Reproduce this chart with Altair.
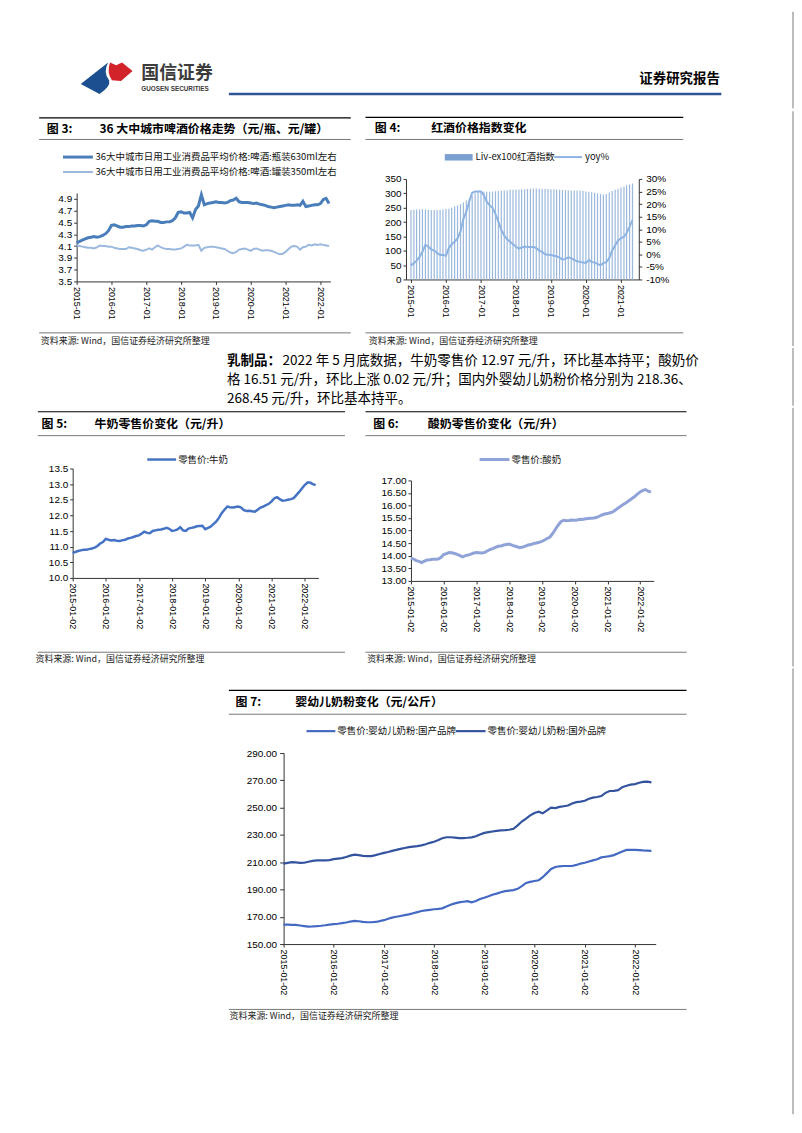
import altair as alt
import pandas as pd

CJK = "Noto Sans CJK SC"
LAT = "Liberation Sans"

# ---------------- data (monthly readings from the figures) ----------------
beer_bottle = [4.15, 4.18, 4.20, 4.22, 4.24, 4.25, 4.26, 4.25, 4.26, 4.28, 4.31, 4.36,
               4.45, 4.46, 4.44, 4.42, 4.42, 4.43, 4.43, 4.44, 4.44, 4.45, 4.45, 4.44,
               4.46, 4.52, 4.53, 4.52, 4.52, 4.50, 4.50, 4.51, 4.51, 4.53, 4.58, 4.67,
               4.68, 4.66, 4.66, 4.67, 4.58, 4.72, 4.78, 4.97, 4.80, 4.82, 4.83, 4.84,
               4.85, 4.84, 4.84, 4.83, 4.84, 4.87, 4.88, 4.91, 4.85, 4.84, 4.84, 4.84,
               4.83, 4.82, 4.83, 4.81, 4.80, 4.79, 4.77, 4.76, 4.75, 4.76, 4.77, 4.78,
               4.79, 4.80, 4.79, 4.79, 4.80, 4.79, 4.86, 4.77, 4.78, 4.79, 4.80, 4.80,
               4.82, 4.89, 4.91, 4.82]
beer_can = [4.11, 4.10, 4.09, 4.08, 4.07, 4.07, 4.06, 4.08, 4.11, 4.10, 4.10, 4.09,
            4.09, 4.07, 4.06, 4.05, 4.05, 4.05, 4.08, 4.07, 4.06, 4.05, 4.03, 4.02,
            4.04, 4.06, 4.04, 4.08, 4.11, 4.08, 4.06, 4.05, 4.05, 4.04, 4.04, 4.05,
            4.06, 4.09, 4.12, 4.11, 4.11, 4.11, 4.12, 4.02, 4.07, 4.08, 4.09, 4.09,
            4.08, 4.07, 4.06, 4.05, 4.02, 3.99, 3.98, 4.00, 4.04, 4.05, 4.06, 4.04,
            4.02, 4.05, 4.06, 4.04, 4.02, 4.03, 4.03, 4.02, 4.00, 3.98, 3.96, 3.97,
            4.00, 4.05, 4.09, 4.10, 4.09, 4.04, 4.08, 4.09, 4.12, 4.11, 4.13, 4.12,
            4.13, 4.12, 4.11, 4.10]
wine_index = [242, 243, 244, 244, 245, 244, 243, 242, 242, 242, 243, 244,
              245, 246, 250, 255, 258, 262, 268, 275, 282, 292, 300, 305,
              308, 306, 305, 305, 306, 307, 308, 309, 310, 311, 312, 312,
              313, 313, 314, 314, 315, 316, 317, 317, 316, 316, 316, 315,
              314, 314, 313, 312, 312, 311, 311, 310, 310, 310, 309, 308,
              306, 305, 304, 302, 300, 298, 296, 298, 303, 308, 312, 316,
              320, 324, 328, 331, 334]
wine_yoy = [-4.4, -3.5, -2.5, -1.0, 1.0, 3.8, 3.0, 2.0, 1.5, 0.5, -0.3, -0.2,
            -0.6, 2.5, 4.0, 5.0, 6.3, 9.0, 14.0, 17.0, 21.0, 24.5, 25.0, 25.0,
            25.0, 23.5, 21.0, 19.5, 18.5, 16.0, 13.0, 9.7, 7.5, 6.0, 5.0, 4.0,
            3.0, 2.3, 2.7, 3.0, 3.0, 2.8, 3.0, 2.5, 1.5, 1.0, 0.0, -0.2,
            -0.3, -0.6, -0.8, -1.3, -2.1, -1.8, -1.2, -1.5, -2.2, -2.8, -3.0, -3.3,
            -3.4, -2.3, -3.0, -3.3, -3.8, -4.4, -3.5, -3.1, -1.5, 1.5, 3.5, 5.5,
            6.4, 7.0, 8.5, 11.0, 13.6]
milk = [10.80, 10.83, 10.86, 10.88, 10.90, 10.90, 10.92, 10.94, 10.97, 11.02, 11.10, 11.15,
        11.25, 11.22, 11.20, 11.21, 11.19, 11.18, 11.20, 11.22, 11.26, 11.28, 11.31, 11.34,
        11.36, 11.42, 11.48, 11.44, 11.43, 11.50, 11.52, 11.54, 11.55, 11.57, 11.60, 11.57,
        11.50, 11.52, 11.55, 11.62, 11.52, 11.50, 11.58, 11.60, 11.62, 11.65, 11.66, 11.67,
        11.56, 11.60, 11.64, 11.72, 11.80, 11.92, 12.07, 12.18, 12.28, 12.26, 12.25, 12.27,
        12.28, 12.25, 12.17, 12.14, 12.15, 12.13, 12.12, 12.18, 12.25, 12.28, 12.33, 12.37,
        12.45, 12.55, 12.58, 12.52, 12.47, 12.48, 12.50, 12.52, 12.55, 12.65, 12.75, 12.86,
        12.97, 13.05, 13.05, 13.00, 12.97]
yogurt = [13.90, 13.86, 13.80, 13.77, 13.72, 13.78, 13.82, 13.83, 13.85, 13.85, 13.86, 13.92,
          14.04, 14.08, 14.12, 14.11, 14.08, 14.05, 14.00, 13.95, 14.00, 14.02, 14.06, 14.10,
          14.12, 14.11, 14.10, 14.12, 14.18, 14.24, 14.28, 14.33, 14.37, 14.38, 14.42, 14.44,
          14.46, 14.42, 14.38, 14.35, 14.31, 14.34, 14.38, 14.42, 14.44, 14.48, 14.50, 14.53,
          14.57, 14.62, 14.68, 14.74, 14.88, 15.05, 15.21, 15.35, 15.41, 15.39, 15.40, 15.42,
          15.41, 15.42, 15.45, 15.44, 15.47, 15.48, 15.49, 15.50, 15.52, 15.57, 15.62, 15.66,
          15.68, 15.71, 15.74, 15.82, 15.90, 15.98, 16.05, 16.12, 16.20, 16.28, 16.36, 16.45,
          16.54, 16.60, 16.63, 16.57, 16.53]
formula_domestic = [164.3, 164.2, 164.1, 164.0, 163.6, 163.2, 162.8, 162.9, 163.1, 163.4, 163.8, 164.3,
                    164.6, 164.9, 165.3, 165.8, 166.5, 167.0, 166.7, 166.3, 166.0, 166.0, 166.2, 166.8,
                    167.5, 168.5, 169.4, 170.0, 170.6, 171.2, 171.8, 172.6, 173.4, 174.2, 174.7, 175.1,
                    175.5, 175.8, 176.2, 177.5, 178.8, 179.8, 180.5, 181.0, 181.5, 180.6, 181.5, 183.0,
                    184.0, 185.0, 186.2, 187.0, 188.0, 188.8, 189.2, 189.5, 190.5, 192.5, 194.8, 195.6,
                    196.2, 196.8, 199.0, 202.0, 205.0, 206.5, 207.0, 207.2, 207.2, 207.2, 208.0, 209.0,
                    209.6, 210.5, 211.3, 212.2, 213.5, 214.0, 214.5, 215.2, 216.5, 217.8, 219.0, 219.0,
                    219.0, 218.8, 218.6, 218.5, 218.36]
formula_foreign = [209.0, 209.5, 210.0, 209.8, 209.5, 209.6, 210.3, 211.0, 211.3, 211.3, 211.3, 211.5,
                   212.2, 212.6, 213.0, 213.8, 214.8, 215.5, 215.2, 214.6, 214.5, 214.5, 215.2, 216.0,
                   216.8, 217.5, 218.3, 219.0, 219.8, 220.4, 221.0, 221.4, 221.8, 222.3, 223.2, 224.2,
                   225.0, 226.2, 227.5, 228.3, 228.3, 228.0, 227.6, 227.7, 227.9, 228.2, 229.0, 230.3,
                   231.5, 232.0, 232.5, 233.0, 233.3, 233.5, 233.8, 234.5, 237.0, 239.8, 242.0, 244.3,
                   246.0, 247.0, 245.8, 248.0, 250.0, 249.6, 250.5, 251.0, 251.5, 253.0, 254.0, 254.4,
                   255.0, 256.5, 257.3, 257.8, 258.5, 260.8, 262.2, 262.3, 262.8, 265.0, 266.0, 266.8,
                   267.2, 268.2, 268.8, 269.0, 268.45]

fig3_y_ticks = [3.5, 3.7, 3.9, 4.1, 4.3, 4.5, 4.7, 4.9]
fig4_left_ticks = [0, 50, 100, 150, 200, 250, 300, 350]
fig4_right_ticks = [-10, -5, 0, 5, 10, 15, 20, 25, 30]
fig5_y_ticks = [10.0, 10.5, 11.0, 11.5, 12.0, 12.5, 13.0, 13.5]
fig6_y_ticks = [13.0, 13.5, 14.0, 14.5, 15.0, 15.5, 16.0, 16.5, 17.0]
fig7_y_ticks = [150, 170, 190, 210, 230, 250, 270, 290]

SRC = "资料来源: Wind，国信证券经济研究所整理"
LEG3A = "36大中城市日用工业消费品平均价格:啤酒:瓶装630ml左右"
LEG3B = "36大中城市日用工业消费品平均价格:啤酒:罐装350ml左右"
LEG4A = "Liv-ex100红酒指数"
LEG4B = "yoy%"
LEG5 = "零售价:牛奶"
LEG6 = "零售价:酸奶"
LEG7A = "零售价:婴幼儿奶粉:国产品牌"
LEG7B = "零售价:婴幼儿奶粉:国外品牌"
PARA_BOLD = "乳制品："
PARA1 = "2022 年 5 月底数据，牛奶零售价 12.97 元/升，环比基本持平；酸奶价"
PARA2 = "格 16.51 元/升，环比上涨 0.02 元/升；国内外婴幼儿奶粉价格分别为 218.36、"
PARA3 = "268.45 元/升，环比基本持平。"

C_BOTTLE = "#4a7ebb"
C_CAN = "#9bb9de"
C_BAR = "#9ab8dd"
C_YOY = "#8db3e2"
C_MILK = "#4472c4"
C_YOG = "#8fa3d9"
C_DOM = "#4469c2"
C_FOR = "#33539f"
FRAME = "#7a7a7a"


def month_dates(y, m, n):
    out = []
    for _ in range(n):
        out.append(f"{y:04d}-{m:02d}-01T00:00:00")
        m += 1
        if m > 12:
            m = 1
            y += 1
    return out


def dt(y, m, d):
    return alt.DateTime(year=y, month=m, date=d)


ONE = pd.DataFrame({"k": [0]})


class Deco:
    def __init__(self, ox, oy):
        self.ox, self.oy, self.layers = ox, oy, []

    def rule(self, x1, y1, x2, y2, color="#000000", w=1.0):
        self.layers.append(alt.Chart(ONE).mark_rule(color=color, strokeWidth=w).encode(
            x=alt.value(x1 - self.ox), y=alt.value(y1 - self.oy),
            x2=alt.value(x2 - self.ox), y2=alt.value(y2 - self.oy)))

    def rect(self, x1, y1, x2, y2, color):
        self.layers.append(alt.Chart(ONE).mark_rect(color=color).encode(
            x=alt.value(x1 - self.ox), y=alt.value(y1 - self.oy),
            x2=alt.value(x2 - self.ox), y2=alt.value(y2 - self.oy)))

    def text(self, x, y, s, size=9.0, weight="normal", color="#111111", font=CJK, align="left"):
        self.layers.append(alt.Chart(ONE).mark_text(
            text=s, align=align, baseline="middle", fontSize=size, fontWeight=weight,
            color=color, font=font).encode(x=alt.value(x - self.ox), y=alt.value(y - self.oy)))

    def symbol(self, x, y, path, size, color):
        self.layers.append(alt.Chart(ONE).mark_point(
            shape=path, size=size, filled=True, color=color, opacity=1, strokeWidth=0).encode(
            x=alt.value(x - self.ox), y=alt.value(y - self.oy)))

    def band(self, L, T, R, B):
        # invisible markers fixing the layout extent of this panel
        self.rule(L + 0.05, T + 0.05, L + 0.05, T + 0.5, "#ffffff", 0.01)
        self.rule(R - 0.05, B - 0.5, R - 0.05, B - 0.05, "#ffffff", 0.01)

    def figure_frame(self, x1, x2, ytop, ytitle, ysrc, num, title, xnum, xtitle, ytext):
        self.rule(x1, ytop, x2, ytop, "#000000", 1.2)
        self.rule(x1, ytitle, x2, ytitle, "#555555", 0.8)
        self.rule(x1, ysrc, x2, ysrc, "#555555", 0.8)
        ymid = (ytop + ytitle) / 2
        self.text(xnum, ymid, num, 12, "bold", "#000000")
        self.text(xtitle, ymid, title, 12, "bold", "#000000")
        self.text(xnum - 6, ytext, SRC, 9, "normal", "#222222")


def spacer():
    return alt.Chart(ONE).mark_rule(color="#ffffff", strokeWidth=0.01).encode(
        x=alt.value(0.05), x2=alt.value(0.05), y=alt.value(0.05), y2=alt.value(0.5)
    ).properties(width=10, height=1)


XAX = dict(labelAngle=90, labelFontSize=9, labelFont=LAT, labelFlush=False, labelOverlap=False,
           grid=False, tickSize=3, labelPadding=2, domainColor="#333333", tickColor="#333333",
           labelColor="#000000")
YAX = dict(labelFontSize=10, labelFont=LAT, grid=False, tickSize=3, labelPadding=2,
           domainColor="#333333", tickColor="#333333", labelColor="#000000")

# ---------------- header (origin page 8,8) ----------------
hd = Deco(8, 8)
BLUE_PATH = "M -0.96 0.21 L 0.06 -0.59 Q -0.14 -0.22 0.10 0.08 Q 0.16 0.30 -0.26 0.58 Z"
RED_PATH = "M 0.13 -0.59 L 0.36 -0.49 L 0.58 -0.59 L 0.97 -0.28 L 0.54 0.09 L 0.20 0.07 Q 0.00 -0.22 0.13 -0.59 Z"
hd.rule(8.05, 8.05, 8.05, 8.5, "#ffffff", 0.01)
hd.symbol(107, 76, BLUE_PATH, 2916, "#1c4f8f")
hd.symbol(107, 76, RED_PATH, 2916, "#d2232a")
hd.text(142, 71.5, "国信证券", 18, "bold", "#3c3c3c")
hd.text(142, 86.5, "GUOSEN SECURITIES", 6.4, "bold", "#3c3c3c", LAT)
hd.text(723.5, 76.7, "证券研究报告", 13.5, "bold", "#000000", CJK, "right")
hd.rule(230, 91.7, 725, 91.7, "#2e5496", 2.5)
hd.rule(797, 9, 797, 106, FRAME, 1)
header = alt.layer(*hd.layers).properties(width=786, height=100)

# ---------------- figure 3 (origin page 77,177) ----------------
d3 = Deco(77, 177)
d3.band(30, 108, 354, 346)
d3.figure_frame(39.3, 352.5, 115.7, 137.3, 331.7, "图 3:",
                "36 大中城市啤酒价格走势（元/瓶、元/罐）", 47, 100, 339.5)
d3.rule(63.3, 155, 93.3, 155, C_BOTTLE, 3)
d3.text(96, 155, LEG3A, 9.5)
d3.rule(63.3, 170, 93.3, 170, C_CAN, 2)
d3.text(96, 170, LEG3B, 9.5)
df3a = pd.DataFrame({"date": month_dates(2015, 1, len(beer_bottle)), "v": beer_bottle})
df3b = pd.DataFrame({"date": month_dates(2015, 1, len(beer_can)), "v": beer_can})
x3 = alt.X("date:T", title=None, scale=alt.Scale(domain=[dt(2015, 1, 1), dt(2022, 4, 15)]),
           axis=alt.Axis(values=[dt(y, 1, 1) for y in range(2015, 2023)], format="%Y-%m", **XAX))
y3 = alt.Y("v:Q", title=None,
           scale=alt.Scale(domain=[3.5, 5.0], range=[103, 14.1], nice=False, zero=False),
           axis=alt.Axis(values=fig3_y_ticks, format=".1f", **YAX))
l3a = alt.Chart(df3a).mark_line(color=C_BOTTLE, strokeWidth=3).encode(x=x3, y=y3)
l3b = alt.Chart(df3b).mark_line(color=C_CAN, strokeWidth=2).encode(x=x3, y=y3)
fig3 = alt.layer(*d3.layers, l3b, l3a).properties(width=255, height=103)

# ---------------- figure 4 (origin page 408,177) ----------------
d4 = Deco(408, 177)
d4.band(366, 108, 790, 346)
d4.figure_frame(367.3, 686.7, 115.2, 137.3, 331.7, "图 4:", "红酒价格指数变化", 376.7, 433.3, 339.5)
d4.rule(797, 109, 797, 345, FRAME, 1)
d4.rect(447, 152, 475, 158.5, "#7aa0cf")
d4.text(478, 155, LEG4A, 9.5)
d4.rule(557, 155, 585, 155, C_YOY, 2)
d4.text(588, 155, LEG4B, 9.5)
df4 = pd.DataFrame({"date": month_dates(2015, 1, len(wine_index)), "idx": wine_index, "yoy": wine_yoy})
x4 = alt.X("date:T", title=None, scale=alt.Scale(domain=[dt(2015, 1, 1), dt(2021, 5, 15)]),
           axis=alt.Axis(values=[dt(y, 1, 1) for y in range(2015, 2022)], format="%Y-%m", **XAX))
bars4 = alt.Chart(df4).mark_bar(size=1.2, color=C_BAR).encode(
    x=x4,
    y=alt.Y("idx:Q", title=None, scale=alt.Scale(domain=[0, 350], nice=False),
            axis=alt.Axis(values=fig4_left_ticks, format="d", **YAX)))
YAXR = dict(YAX)
YAXR["labelPadding"] = 4
line4 = alt.Chart(df4).mark_line(color=C_YOY, strokeWidth=2).encode(
    x=x4,
    y=alt.Y("yoy:Q", title=None, scale=alt.Scale(domain=[-10, 30], nice=False, zero=False),
            axis=alt.Axis(orient="right", values=fig4_right_ticks, labelExpr="datum.value + '%'", **YAXR)))
fig4 = alt.layer(*d4.layers, bars4, line4).resolve_scale(y="independent").properties(width=234, height=101)

# ---------------- paragraph (origin page 8,346), band 346..406 ----------------
pa = Deco(8, 346)
pa.text(228, 359.5, PARA_BOLD, 13.6, "bold", "#000000")
pa.text(284, 359.5, PARA1, 13.6, "normal", "#000000")
pa.text(228, 379.5, PARA2, 13.6, "normal", "#000000")
pa.text(228, 398.5, PARA3, 13.6, "normal", "#000000")
pa.rule(797, 347, 797, 405, FRAME, 1)
para = alt.layer(*pa.layers).properties(width=786, height=60)

# ---------------- figure 5 (origin page 73,468), band 406..668 ----------------
d5 = Deco(73, 468)
d5.band(30, 406, 354, 668)
d5.figure_frame(38, 346.7, 411, 435, 652.7, "图 5:", "牛奶零售价变化（元/升）", 41.7, 95, 659.5)
d5.rule(148, 459, 177, 459, C_MILK, 2.5)
d5.text(179, 459, LEG5, 9.5)
df5 = pd.DataFrame({"date": month_dates(2015, 1, len(milk)), "v": milk})
x5 = alt.X("date:T", title=None, scale=alt.Scale(domain=[dt(2015, 1, 2), dt(2022, 6, 1)]),
           axis=alt.Axis(values=[dt(y, 1, 2) for y in range(2015, 2023)], format="%Y-%m-%d", **XAX))
l5 = alt.Chart(df5).mark_line(color=C_MILK, strokeWidth=2.5).encode(
    x=x5,
    y=alt.Y("v:Q", title=None, scale=alt.Scale(domain=[10.0, 13.5], nice=False, zero=False),
            axis=alt.Axis(values=fig5_y_ticks, format=".1f", **YAX)))
fig5 = alt.layer(*d5.layers, l5).properties(width=247, height=110)

# ---------------- figure 6 (origin page 413,468) ----------------
d6 = Deco(413, 468)
d6.band(366, 406, 790, 668)
d6.figure_frame(367.3, 690, 411, 435, 652.7, "图 6:", "酸奶零售价变化（元/升）", 375, 430, 659.5)
d6.rule(797, 407, 797, 667, FRAME, 1)
d6.rule(482, 459, 512, 459, C_YOG, 3)
d6.text(514, 459, LEG6, 9.5)
df6 = pd.DataFrame({"date": month_dates(2015, 1, len(yogurt)), "v": yogurt})
x6 = alt.X("date:T", title=None, scale=alt.Scale(domain=[dt(2015, 1, 2), dt(2022, 6, 1)]),
           axis=alt.Axis(values=[dt(y, 1, 2) for y in range(2015, 2023)], format="%Y-%m-%d", **XAX))
l6 = alt.Chart(df6).mark_line(color=C_YOG, strokeWidth=3).encode(
    x=x6,
    y=alt.Y("v:Q", title=None,
            scale=alt.Scale(domain=[13.0, 17.0], range=[112.7, 12], nice=False, zero=False),
            axis=alt.Axis(values=fig6_y_ticks, format=".2f", **YAX)))
fig6 = alt.layer(*d6.layers, l6).properties(width=244, height=113)

# ---------------- figure 7 (origin page 285,754) ----------------
d7 = Deco(285, 754)
d7.band(30, 668, 790, 1118)
d7.figure_frame(230, 690, 691, 715, 1011.7, "图 7:", "婴幼儿奶粉变化（元/公斤）", 236.7, 296.7, 1018.5)
d7.rule(797, 669, 797, 1117, FRAME, 1)
d7.rule(308, 732, 337, 732, C_DOM, 2.2)
d7.text(339, 732, LEG7A, 9.5)
d7.rule(458, 732, 488, 732, C_FOR, 2.2)
d7.text(490, 732, LEG7B, 9.5)
df7a = pd.DataFrame({"date": month_dates(2015, 1, len(formula_domestic)), "v": formula_domestic})
df7b = pd.DataFrame({"date": month_dates(2015, 1, len(formula_foreign)), "v": formula_foreign})
YAX7 = dict(YAX)
YAX7["tickSize"] = 4
YAX7["labelPadding"] = 3
x7 = alt.X("date:T", title=None, scale=alt.Scale(domain=[dt(2015, 1, 2), dt(2022, 6, 1)]),
           axis=alt.Axis(values=[dt(y, 1, 2) for y in range(2015, 2023)], format="%Y-%m-%d", **XAX))
y7 = alt.Y("v:Q", title=None, scale=alt.Scale(domain=[150, 290], nice=False, zero=False),
           axis=alt.Axis(values=fig7_y_ticks, format=".2f", **YAX7))
l7a = alt.Chart(df7a).mark_line(color=C_DOM, strokeWidth=2.2).encode(x=x7, y=y7)
l7b = alt.Chart(df7b).mark_line(color=C_FOR, strokeWidth=2.2).encode(x=x7, y=y7)
fig7 = alt.layer(*d7.layers, l7a, l7b).properties(width=374, height=192)

rowB = alt.hconcat(spacer(), fig3, fig4, spacing=12)
rowD = alt.hconcat(spacer(), fig5, fig6, spacing=12)
rowE = alt.hconcat(spacer(), fig7, spacing=12)

chart = alt.vconcat(header, rowB, para, rowD, rowE, spacing=0).properties(
    padding=0, background="white"
).configure_view(strokeWidth=0)

chart.save("out.html", embed_options={"renderer": "svg", "actions": False})
